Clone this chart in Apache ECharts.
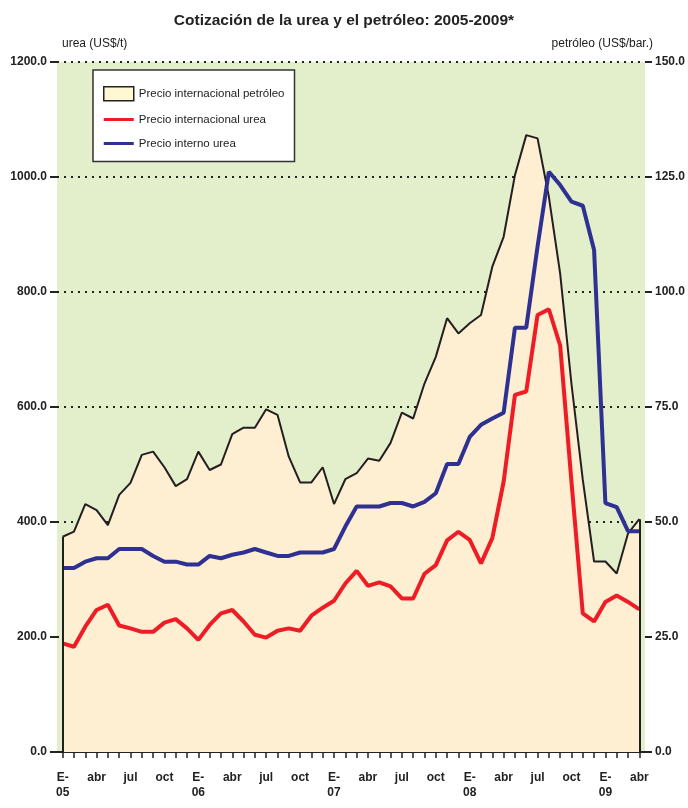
<!DOCTYPE html>
<html>
<head>
<meta charset="utf-8">
<script src="https://cdn.jsdelivr.net/npm/echarts@6/dist/echarts.min.js"></script>
<style>
html,body{margin:0;padding:0;background:#fff;}
#chart{width:688px;height:808px;}
</style>
</head>
<body>
<div id="chart"></div>
<script>
// Months Jan 2005 .. Apr 2009
const categories = [
  'E-\n05','feb','mar','abr','may','jun','jul','ago','sep','oct','nov','dic',
  'E-\n06','feb','mar','abr','may','jun','jul','ago','sep','oct','nov','dic',
  'E-\n07','feb','mar','abr','may','jun','jul','ago','sep','oct','nov','dic',
  'E-\n08','feb','mar','abr','may','jun','jul','ago','sep','oct','nov','dic',
  'E-\n09','feb','mar','abr'
];
// Precio internacional petróleo (US$/bar.) - right axis
const oilPrice = [
  46.8, 47.9, 53.9, 52.6, 49.3, 55.9, 58.5, 64.6, 65.3, 61.9, 57.8, 59.3,
  65.3, 61.3, 62.5, 69.1, 70.5, 70.5, 74.5, 73.3, 64.2, 58.6, 58.6, 61.9,
  53.9, 59.3, 60.6, 63.8, 63.3, 67.2, 73.8, 72.5, 80.1, 85.9, 94.3, 91.0,
  93.2, 95.0, 105.5, 112.0, 125.4, 134.1, 133.4, 120.7, 104.0, 80.0, 59.2, 41.4,
  41.4, 38.8, 47.5, 50.6
];
// Precio internacional urea (US$/t) - left axis
const ureaIntl = [
  189, 183, 218, 247, 256, 220, 215, 209, 209, 225, 231, 215,
  195, 221, 241, 247, 227, 204, 199, 211, 215, 211, 237, 251,
  263, 293, 315, 289, 295, 288, 267, 267, 310, 325, 368, 383,
  369, 328, 372, 470, 621, 627, 760, 770, 707, 470, 241, 227,
  261, 272, 261, 248
];
// Precio interno urea (US$/t) - left axis
const ureaInterno = [
  320, 320, 331, 337, 337, 353, 353, 353, 341, 331, 331, 326,
  326, 341, 337, 343, 347, 353, 347, 341, 341, 347, 347, 347,
  353, 392, 427, 427, 427, 433, 433, 427, 435, 450, 501, 501,
  548, 569, 580, 590, 738, 738, 879, 1009, 986, 957, 950, 873,
  433, 426, 384, 384
];
const seriesNames = ['Precio internacional petróleo', 'Precio internacional urea', 'Precio interno urea'];
const titleText = 'Cotización de la urea y el petróleo: 2005-2009*';
const leftAxisName = 'urea (US$/t)';
const rightAxisName = 'petróleo (US$/bar.)';

const FONT = "'Liberation Sans Narrow', 'Liberation Sans', Arial, sans-serif";
const FONT2 = "'Liberation Sans', Arial, sans-serif";
const last = categories.length - 1;

const chart = echarts.init(document.getElementById('chart'), null, {renderer: 'canvas'});
chart.setOption({
  animation: false,
  backgroundColor: '#ffffff',
  title: {
    text: titleText, left: 'center', top: 8,
    textStyle: {fontFamily: FONT2, fontSize: 15.5, fontWeight: 'bold', color: '#222'}
  },
  legend: {
    left: 93, top: 70, orient: 'vertical',
    backgroundColor: '#ffffff', borderColor: '#333', borderWidth: 1.5,
    padding: [16, 10, 12, 10], itemGap: 12, itemWidth: 30, itemHeight: 14, itemTextGap: 6,
    textStyle: {fontFamily: FONT2, fontSize: 11.5, color: '#222'},
    data: [
      {name: seriesNames[0], icon: 'rect', itemStyle: {color: '#FFF8D2', borderColor: '#222', borderWidth: 1.5}},
      {name: seriesNames[1], icon: 'path://M0,0 H30 V3 H0 Z', itemStyle: {color: '#EE1C25'}},
      {name: seriesNames[2], icon: 'path://M0,0 H30 V3 H0 Z', itemStyle: {color: '#2E3192'}}
    ]
  },
  grid: {
    left: 57, right: 38, top: 62, bottom: 56,
    show: true, backgroundColor: '#E3EECB', borderWidth: 0
  },
  xAxis: {
    type: 'category', data: categories, boundaryGap: true,
    axisLine: {show: true, lineStyle: {color: '#222', width: 2}},
    axisTick: {show: true, interval: 0, alignWithLabel: true, length: 6, lineStyle: {color: '#222', width: 1.5}},
    axisLabel: {
      interval: 2, margin: 18, color: '#222', fontFamily: FONT, fontSize: 12, fontWeight: 'bold',
      lineHeight: 15, verticalAlign: 'top'
    },
    splitLine: {show: false}
  },
  yAxis: [
    {
      type: 'value', min: 0, max: 1200, interval: 200, position: 'left',
      name: leftAxisName, nameLocation: 'end', nameGap: 12,
      nameTextStyle: {fontFamily: FONT, fontSize: 12, color: '#222', align: 'left', padding: [0, 0, 0, 5]},
      axisLine: {show: false},
      axisTick: {show: true, length: 7, lineStyle: {color: '#222', width: 2}},
      axisLabel: {margin: 10, color: '#222', fontFamily: FONT, fontSize: 12, fontWeight: 'bold',
        formatter: v => v.toFixed(1)},
      splitLine: {show: true, lineStyle: {color: '#222', width: 2, type: [2, 5]}}
    },
    {
      type: 'value', min: 0, max: 150, interval: 25, position: 'right',
      name: rightAxisName, nameLocation: 'end', nameGap: 12,
      nameTextStyle: {fontFamily: FONT, fontSize: 12, color: '#222', align: 'right', padding: [0, -8, 0, 0]},
      axisLine: {show: false},
      axisTick: {show: true, length: 7, lineStyle: {color: '#222', width: 2}},
      axisLabel: {margin: 10, color: '#222', fontFamily: FONT, fontSize: 12, fontWeight: 'bold',
        formatter: v => v.toFixed(1)},
      splitLine: {show: false}
    }
  ],
  series: [
    {
      name: seriesNames[0], type: 'line', yAxisIndex: 1, data: oilPrice,
      symbol: 'none', showSymbol: false,
      lineStyle: {color: '#231F20', width: 2},
      itemStyle: {color: '#FFF8D2'},
      areaStyle: {color: '#FEEED2', opacity: 1},
      emphasis: {disabled: true},
      markLine: {
        silent: true, symbol: 'none', label: {show: false},
        lineStyle: {color: '#231F20', width: 2, type: 'solid'},
        data: [
          [{coord: [0, 0]}, {coord: [0, oilPrice[0]]}],
          [{coord: [last, 0]}, {coord: [last, oilPrice[last]]}]
        ]
      },
      z: 2
    },
    {
      name: seriesNames[1], type: 'line', yAxisIndex: 0, data: ureaIntl,
      symbol: 'none', showSymbol: false,
      lineStyle: {color: '#EE1C25', width: 4},
      itemStyle: {color: '#EE1C25'},
      emphasis: {disabled: true},
      z: 3
    },
    {
      name: seriesNames[2], type: 'line', yAxisIndex: 0, data: ureaInterno,
      symbol: 'none', showSymbol: false,
      lineStyle: {color: '#2E3192', width: 4},
      itemStyle: {color: '#2E3192'},
      emphasis: {disabled: true},
      z: 4
    }
  ]
});
</script>
</body>
</html>
